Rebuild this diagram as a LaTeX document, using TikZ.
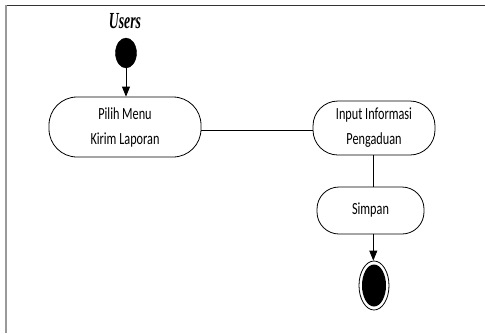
\documentclass[tikz,border=0pt]{standalone}
\usepackage{fontspec}
\setmainfont{Carlito}
\newfontfamily\usersfont{Liberation Serif}
\usetikzlibrary{arrows.meta,shapes.geometric}
\tikzset{
  act/.style={draw=black, line width=0.8pt, rectangle, inner sep=0pt, align=center, font=\fontsize{17}{25}\selectfont},
  conn/.style={draw=black, line width=0.8pt},
  flow/.style={conn, -{Triangle[width=8pt,length=10pt]}},
}
\newcommand{\sq}[1]{\scalebox{0.72}[1]{#1}}
\begin{document}
\begin{tikzpicture}[x=1pt,y=-1pt]
\useasboundingbox (0,0) rectangle (485,333);
\fill[white] (0,0) rectangle (485,333);
\draw[color=black!80, line width=1.6pt] (5,5.5) -- (485,5.5);
\draw[color=black!40, line width=1.6pt] (6,5) -- (6,333);
\node (users) at (125,21) {\scalebox{0.6}[1]{\usersfont\fontsize{23}{23}\selectfont\itshape\bfseries Users}};
\node[ellipse, fill=black, draw=black, minimum width=21pt, minimum height=30pt, inner sep=0pt] (start) at (126,53) {};
\node[act, minimum width=152pt, minimum height=60pt, rounded corners=28pt] (pilih) at (125,127) {\sq{Pilih Menu}\\\sq{Kirim Laporan}};
\node[act, minimum width=122pt, minimum height=54pt, rounded corners=25pt] (input) at (374,128) {\sq{Input Informasi}\\\sq{Pengaduan}};
\node[act, minimum width=107pt, minimum height=47pt, rounded corners=22pt] (simpan) at (370.5,210.5) {\sq{Simpan}};
\node[ellipse, draw=black, line width=0.8pt, minimum width=30pt, minimum height=49pt, inner sep=0pt] (end) at (374,285.5) {};
\node[ellipse, fill=black, minimum width=24pt, minimum height=42pt, inner sep=0pt] (endin) at (374,285.5) {};
\draw[flow] (start.south) -- (pilih.north -| start.south);
\draw[conn] ([yshift=-3pt]pilih.east) -- ([yshift=-3pt]pilih.east -| input.west);
\draw[conn] ([xshift=-0.7pt]input.south) -- ([xshift=-0.7pt]input.south |- simpan.north);
\draw[flow] ([xshift=-0.7pt]input.south |- simpan.south) -- ([xshift=-0.7pt]input.south |- end.north);
\end{tikzpicture}
\end{document}
